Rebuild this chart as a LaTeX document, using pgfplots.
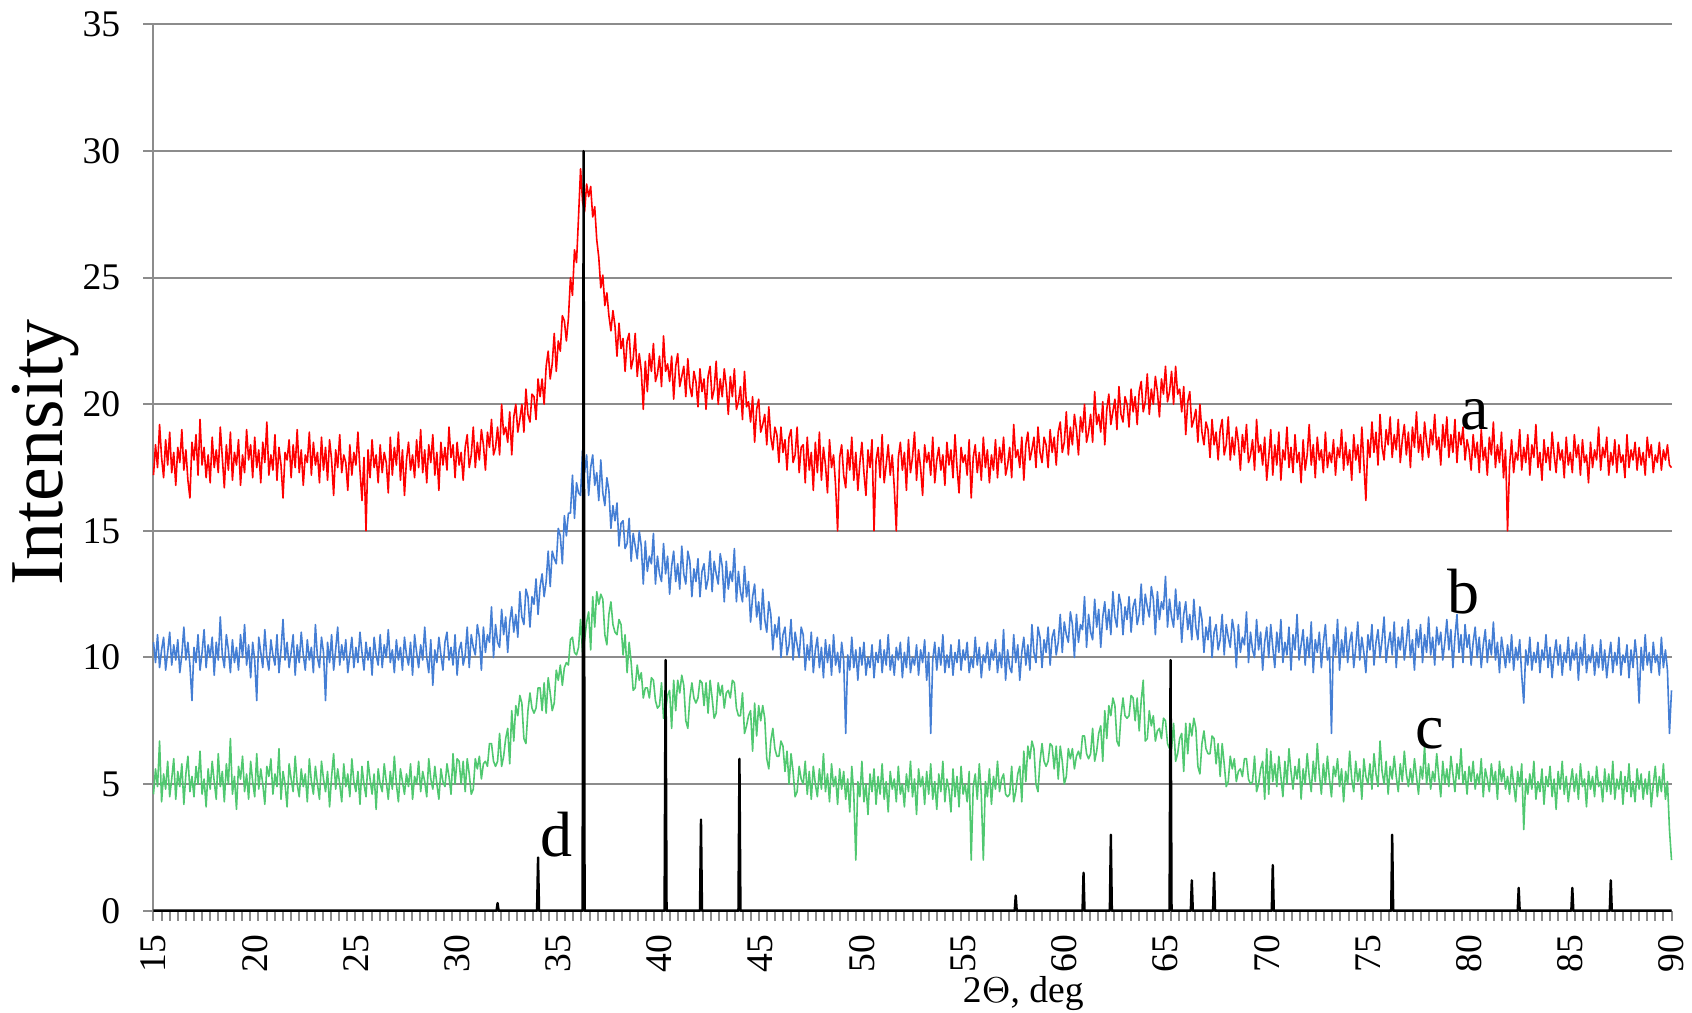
\documentclass[border=0pt]{standalone}
\usepackage{fontspec}
\setmainfont{Liberation Serif}
\usepackage{pgfplots}
\usepackage{pgfplotstable}
\pgfplotsset{compat=1.18}

\definecolor{xred}{RGB}{255,0,0}
\definecolor{xblue}{RGB}{68,126,212}
\definecolor{xgreen}{RGB}{80,200,112}
\definecolor{gridgray}{RGB}{140,140,140}

% 2theta, curve a, curve b, curve c
\pgfplotstableread{
x a b c
15.0 17.2 10.6 4.6
15.1 18.4 9.8 5.6
15.2 17.5 10.9 4.9
15.3 19.2 9.6 6.7
15.4 17.9 10.3 4.3
15.5 17.1 10.8 5.4
15.6 18.6 9.5 4.8
15.7 17.6 10.2 5.9
15.8 18.9 11.0 4.5
15.9 17.3 9.7 5.2
16.0 18.1 10.5 6.0
16.1 16.8 9.9 4.4
16.2 18.3 10.7 5.5
16.3 17.7 9.4 4.9
16.4 19.0 10.1 5.8
16.5 17.4 11.2 4.2
16.6 18.2 9.9 5.4
16.7 17.0 10.6 6.1
16.8 16.3 9.7 4.7
16.9 18.5 8.3 5.3
17.0 17.8 10.4 4.5
17.1 18.8 9.8 5.7
17.2 17.2 10.9 5.0
17.3 19.4 9.5 6.3
17.4 17.6 10.2 4.6
17.5 18.3 11.1 5.2
17.6 17.1 9.6 4.1
17.7 18.0 10.5 5.6
17.8 16.9 10.0 4.8
17.9 18.7 10.8 5.9
18.0 17.5 9.3 5.1
18.1 18.2 10.6 4.4
18.2 17.3 9.9 6.2
18.3 19.1 11.6 4.9
18.4 17.9 10.1 5.5
18.5 16.7 9.6 4.3
18.6 18.4 10.9 5.8
18.7 17.4 10.3 5.0
18.8 18.9 9.4 6.8
18.9 17.0 10.7 4.6
19.0 18.1 9.8 5.3
19.1 17.6 10.4 4.0
19.2 18.6 9.5 5.7
19.3 16.8 10.9 5.2
19.4 18.0 10.0 6.1
19.5 17.3 11.3 4.7
19.6 19.0 9.7 5.4
19.7 17.8 10.5 4.4
19.8 18.4 9.2 5.9
19.9 17.1 10.6 5.1
20.0 18.7 9.9 4.5
20.1 17.5 8.3 6.2
20.2 18.2 10.8 4.8
20.3 16.9 10.2 5.6
20.4 18.5 9.6 5.0
20.5 17.7 11.1 4.2
20.6 19.3 10.0 5.7
20.7 17.2 9.5 5.3
20.8 18.0 10.7 6.0
20.9 17.4 10.1 4.6
21.0 18.8 9.7 5.4
21.1 17.0 10.9 4.9
21.2 18.3 9.4 6.4
21.3 17.6 10.3 4.4
21.4 16.3 11.5 5.5
21.5 18.1 9.9 5.0
21.6 17.8 10.6 4.1
21.7 18.6 9.6 5.8
21.8 17.1 10.2 5.2
21.9 18.4 10.9 4.7
22.0 17.5 9.3 6.1
22.1 19.0 10.5 5.0
22.2 17.3 9.8 4.5
22.3 18.2 11.0 5.6
22.4 16.8 10.1 4.9
22.5 18.0 9.5 5.4
22.6 17.7 10.7 4.3
22.7 18.9 9.9 6.0
22.8 17.2 10.4 5.1
22.9 18.5 9.4 4.6
23.0 17.6 11.3 5.7
23.1 18.1 10.0 5.0
23.2 16.9 9.6 4.4
23.3 18.7 10.8 5.9
23.4 17.4 10.2 5.2
23.5 18.3 8.3 4.7
23.6 17.0 10.6 5.5
23.7 18.6 9.8 4.1
23.8 17.8 10.9 5.3
23.9 16.4 9.5 6.2
24.0 18.2 10.3 4.8
24.1 17.5 11.2 5.6
24.2 18.8 9.7 5.0
24.3 17.3 10.5 4.3
24.4 18.0 9.9 5.8
24.5 17.7 10.7 4.9
24.6 16.6 9.4 5.4
24.7 18.4 10.1 4.5
24.8 17.2 10.8 6.0
24.9 18.1 9.6 5.1
25.0 17.6 10.4 4.7
25.1 18.9 9.8 5.5
25.2 17.4 11.0 4.2
25.3 16.2 10.2 5.7
25.4 17.9 9.5 5.0
25.5 15.0 10.6 4.5
25.6 18.2 9.9 5.9
25.7 17.1 10.4 5.2
25.8 18.6 9.3 4.6
25.9 17.5 10.8 5.4
26.0 18.0 10.1 4.0
26.1 16.9 9.7 5.6
26.2 18.4 10.9 5.0
26.3 17.3 9.6 4.7
26.4 18.1 10.5 5.8
26.5 17.7 10.0 5.1
26.6 16.5 11.1 4.4
26.7 18.7 9.8 5.5
26.8 17.2 10.3 4.8
26.9 18.3 9.4 6.1
27.0 17.6 10.7 5.0
27.1 18.9 9.9 4.3
27.2 17.0 10.4 5.6
27.3 18.2 9.5 5.1
27.4 16.4 10.8 4.6
27.5 17.8 10.1 5.4
27.6 18.5 9.7 4.9
27.7 17.4 10.6 5.8
27.8 18.0 9.3 4.4
27.9 17.1 10.9 5.3
28.0 18.6 10.2 5.0
28.1 17.5 9.6 5.9
28.2 19.0 10.5 4.7
28.3 17.3 9.9 5.5
28.4 18.2 11.2 5.1
28.5 16.9 10.0 4.5
28.6 18.4 9.4 6.0
28.7 17.7 10.7 5.2
28.8 18.8 8.9 4.8
28.9 17.2 10.3 5.7
29.0 18.1 9.8 5.0
29.1 16.6 10.8 4.4
29.2 18.5 10.1 5.6
29.3 17.6 9.5 5.1
29.4 18.3 10.6 4.9
29.5 17.4 11.0 5.8
29.6 19.1 9.9 5.3
29.7 17.9 10.4 4.6
29.8 18.4 9.7 6.2
29.9 17.1 10.9 5.0
30.0 18.5 9.3 6.0
30.1 17.6 10.3 5.9
30.2 18.1 10.6 5.0
30.3 17.0 9.7 5.9
30.4 18.3 10.1 4.7
30.5 18.8 11.2 6.0
30.6 17.5 9.6 5.4
30.7 18.0 10.9 4.6
30.8 19.1 10.4 4.8
30.9 17.5 10.1 6.0
31.0 18.5 11.3 5.6
31.1 17.8 10.8 6.1
31.2 19.0 9.5 5.2
31.3 18.4 11.2 5.8
31.4 17.4 10.2 5.9
31.5 18.9 10.9 5.7
31.6 18.3 10.6 6.6
31.7 19.4 12.0 6.6
31.8 18.0 10.0 5.9
31.9 18.3 11.3 5.7
32.0 19.1 10.6 5.9
32.1 18.0 10.4 7.0
32.2 20.0 11.9 5.7
32.3 18.8 10.9 6.1
32.4 19.1 11.6 6.8
32.5 18.5 10.2 7.2
32.6 19.7 11.4 5.8
32.7 18.0 12.0 7.9
32.8 19.5 11.0 6.7
32.9 20.0 11.7 8.1
33.0 18.9 10.8 7.7
33.1 19.4 12.6 8.5
33.2 20.0 11.6 8.2
33.3 18.9 11.3 6.8
33.4 20.6 12.7 6.6
33.5 19.6 12.4 7.9
33.6 19.3 11.2 8.6
33.7 20.4 12.4 8.0
33.8 20.3 12.1 7.8
33.9 19.4 13.1 8.0
34.0 21.0 11.7 8.8
34.1 20.3 12.8 8.8
34.2 21.0 13.3 7.9
34.3 20.0 12.4 9.0
34.4 21.5 13.0 7.8
34.5 22.1 14.2 9.2
34.6 21.0 12.8 8.6
34.7 21.6 14.2 7.9
34.8 22.8 13.9 8.2
34.9 21.3 13.7 9.5
35.0 22.5 15.1 9.1
35.1 22.1 14.8 9.7
35.2 23.5 13.7 8.9
35.3 23.3 15.6 9.6
35.4 22.5 14.8 9.8
35.5 23.4 15.7 9.7
35.6 25.0 15.7 10.7
35.7 24.3 17.2 10.8
35.8 26.1 15.5 10.2
35.9 25.6 16.9 10.1
36.0 27.4 16.5 10.4
36.1 29.3 16.4 11.5
36.2 28.0 18.2 10.2
36.3 27.6 17.3 10.7
36.4 28.7 18.0 11.4
36.5 28.2 16.4 11.8
36.6 28.6 17.5 10.3
36.7 27.4 18.0 12.4
36.8 27.8 16.8 11.2
36.9 26.5 17.3 12.6
37.0 25.8 16.2 12.1
37.1 24.6 17.8 12.5
37.2 25.1 16.5 12.3
37.3 23.9 16.0 10.9
37.4 24.4 17.1 10.5
37.5 23.5 16.6 11.7
37.6 22.9 15.1 12.2
37.7 23.7 16.0 11.3
37.8 23.1 15.4 11.0
37.9 21.9 16.1 10.9
38.0 23.2 14.4 11.5
38.1 22.2 15.3 11.3
38.2 22.6 15.4 10.1
38.3 21.3 14.3 10.9
38.4 22.5 14.5 9.4
38.5 22.8 15.5 10.6
38.6 21.4 13.8 9.8
38.7 21.8 14.9 8.7
38.8 22.8 14.4 8.8
38.9 21.1 13.9 9.7
39.0 22.0 15.0 9.1
39.1 21.3 14.4 9.4
39.2 19.8 12.9 8.4
39.3 21.7 14.6 8.8
39.4 20.5 13.4 8.8
39.5 22.0 14.0 8.4
39.6 21.3 13.7 9.2
39.7 22.4 14.9 9.1
39.8 20.9 12.9 8.3
39.9 21.2 14.0 8.0
40.0 21.9 13.3 8.1
40.1 20.7 13.0 9.0
40.2 22.7 14.5 7.6
40.3 21.3 13.3 7.9
40.4 21.6 14.0 8.5
40.5 20.9 12.5 8.7
40.6 21.9 13.6 7.2
40.7 20.2 14.2 9.1
40.8 21.5 13.0 7.9
40.9 22.0 13.7 9.1
41.0 20.7 12.7 8.6
41.1 21.1 14.4 9.3
41.2 21.5 13.3 8.9
41.3 20.3 12.9 7.5
41.4 21.8 14.2 7.2
41.5 20.7 13.8 8.4
41.6 20.3 12.4 9.0
41.7 21.3 13.5 8.4
41.8 20.9 13.0 8.2
41.9 19.9 13.9 8.4
42.0 21.4 12.4 9.1
42.1 20.5 13.4 9.0
42.2 21.0 13.7 8.1
42.3 19.8 12.7 9.0
42.4 21.1 13.1 7.8
42.5 21.5 14.2 9.1
42.6 20.2 12.6 8.4
42.7 20.6 13.8 7.6
42.8 21.7 13.3 7.8
42.9 20.0 12.9 9.0
43.0 21.0 14.1 8.5
43.1 20.3 13.6 8.9
43.2 21.4 12.2 8.0
43.3 20.7 13.8 8.6
43.4 19.6 12.7 8.7
43.5 21.1 13.4 8.4
43.6 20.3 13.0 9.1
43.7 21.4 14.3 9.0
43.8 19.8 12.2 8.0
43.9 20.1 13.4 7.7
44.0 20.7 12.6 7.7
44.1 19.4 12.2 8.6
44.2 21.3 13.6 7.0
44.3 19.9 12.4 7.3
44.4 20.1 13.0 7.7
44.5 19.3 11.4 7.9
44.6 20.3 12.4 6.3
44.7 18.5 12.9 8.2
44.8 19.8 11.6 6.9
44.9 20.2 12.2 8.1
45.0 18.9 11.1 7.5
45.1 19.2 12.7 8.1
45.2 19.6 11.5 7.6
45.3 18.4 11.0 6.0
45.4 19.9 12.2 5.6
45.5 18.7 11.7 6.7
45.6 18.2 10.3 7.2
45.7 19.1 11.3 6.4
45.8 18.8 10.8 6.1
45.9 17.7 11.6 6.1
46.0 19.1 10.0 6.7
46.1 18.1 10.9 6.5
46.2 18.6 11.2 5.5
46.3 17.4 10.1 6.3
46.4 18.7 10.5 5.0
46.5 19.0 11.5 6.2
46.6 17.7 9.9 5.5
46.7 18.0 11.0 4.5
46.8 19.1 10.5 4.7
46.9 17.3 10.0 5.7
47.0 18.3 11.2 5.2
47.1 18.4 10.9 5.0
47.2 16.9 9.5 5.9
47.3 18.7 10.5 4.6
47.4 17.4 9.9 5.5
47.5 18.1 11.0 4.4
47.6 16.6 9.4 5.7
47.7 18.5 10.3 5.0
47.8 17.3 10.8 4.5
47.9 18.9 9.6 5.6
48.0 17.0 10.4 4.8
48.1 18.3 9.2 6.2
48.2 17.6 10.7 4.7
48.3 16.5 9.8 5.4
48.4 18.6 10.5 4.3
48.5 17.5 9.3 5.8
48.6 18.0 10.9 4.9
48.7 16.8 9.7 5.3
48.8 15.0 10.2 4.2
48.9 17.9 9.4 5.6
49.0 18.4 10.6 4.8
49.1 17.2 9.9 5.5
49.2 16.7 7.0 4.4
49.3 18.2 10.1 5.2
49.4 17.4 9.5 3.9
49.5 18.7 10.8 5.7
49.6 17.0 9.6 4.6
49.7 18.1 10.3 2.0
49.8 16.6 9.1 5.1
49.9 17.7 10.4 4.5
50.0 18.5 9.7 5.9
50.1 17.3 10.6 4.3
50.2 16.4 9.3 5.0
50.3 18.2 10.0 3.8
50.4 17.5 9.6 5.4
50.5 18.6 10.5 4.7
50.6 15.0 9.2 5.6
50.7 17.8 10.2 4.2
50.8 18.3 9.8 5.3
50.9 17.1 10.7 4.6
51.0 18.8 9.4 5.8
51.1 16.9 10.3 4.4
51.2 17.6 9.7 5.1
51.3 18.4 10.9 3.9
51.4 17.2 9.5 5.5
51.5 18.0 10.1 4.8
51.6 16.7 9.3 5.2
51.7 15.0 10.4 4.3
51.8 17.9 9.9 5.7
51.9 18.5 10.6 4.6
52.0 17.4 9.2 5.0
52.1 18.1 10.2 4.1
52.2 16.6 9.6 5.4
52.3 18.6 10.8 4.7
52.4 17.3 9.4 5.9
52.5 17.9 10.0 4.5
52.6 18.9 9.7 5.2
52.7 17.0 10.5 3.8
52.8 18.2 9.3 5.6
52.9 17.5 10.3 4.9
53.0 16.4 9.8 5.3
53.1 18.4 10.7 4.2
53.2 17.7 9.1 5.5
53.3 18.1 10.2 4.6
53.4 17.2 7.0 5.8
53.5 18.7 9.9 4.4
53.6 16.9 10.6 5.1
53.7 17.8 9.5 4.0
53.8 18.3 10.4 5.4
53.9 17.4 9.7 4.7
54.0 18.0 10.9 5.9
54.1 16.8 9.4 4.3
54.2 18.5 10.1 5.2
54.3 17.6 9.6 4.8
54.4 18.2 10.5 3.9
54.5 17.1 9.3 5.6
54.6 18.8 10.2 4.5
54.7 17.5 9.8 5.3
54.8 16.5 10.7 4.1
54.9 18.3 9.5 5.7
55.0 17.7 10.3 4.6
55.1 18.0 9.9 5.0
55.2 17.2 10.6 4.3
55.3 18.6 9.4 5.5
55.4 16.3 10.0 2.0
55.5 17.9 9.6 4.9
55.6 18.4 10.8 5.4
55.7 17.3 9.7 4.4
55.8 18.1 10.4 5.8
55.9 17.0 9.2 4.6
56.0 18.7 10.1 2.0
56.1 17.5 9.8 5.1
56.2 18.2 10.6 4.5
56.3 16.9 9.5 5.6
56.4 18.0 10.3 4.2
56.5 17.4 9.9 5.3
56.6 18.6 10.7 4.8
56.7 17.1 9.4 5.9
56.8 18.3 10.2 4.7
56.9 17.7 9.6 5.2
57.0 18.7 11.1 5.4
57.1 17.2 9.1 4.6
57.2 17.6 10.3 4.5
57.3 18.3 9.6 4.6
57.4 17.1 9.4 5.7
57.5 19.2 10.9 4.3
57.6 17.9 9.8 4.7
57.7 18.2 10.5 5.4
57.8 17.5 9.1 5.7
57.9 18.7 10.2 4.3
58.0 17.0 10.8 6.3
58.1 18.4 9.7 5.1
58.2 18.9 10.5 6.5
58.3 17.8 9.5 6.0
58.4 18.2 11.3 6.7
58.5 18.7 10.2 6.4
58.6 17.5 9.8 5.0
58.7 19.1 11.2 4.7
58.8 18.1 10.8 5.9
58.9 17.7 9.6 6.6
59.0 18.7 10.7 5.9
59.1 18.4 10.2 5.7
59.2 17.5 11.2 5.9
59.3 19.0 9.7 6.6
59.4 18.1 10.8 6.5
59.5 18.7 11.1 5.6
59.6 17.6 10.1 6.5
59.7 18.9 10.6 5.2
59.8 19.3 11.7 6.5
59.9 18.1 10.2 5.9
60.0 18.5 11.4 5.0
60.1 19.7 10.9 5.3
60.2 18.0 10.6 6.4
60.3 19.1 11.8 6.0
60.4 18.4 11.3 6.4
60.5 19.6 10.0 5.6
60.6 19.0 11.7 6.1
60.7 18.0 10.6 6.3
60.8 19.5 11.3 6.0
60.9 18.9 11.1 6.9
61.0 20.0 12.4 6.9
61.1 18.5 10.4 6.2
61.2 18.9 11.7 6.0
61.3 19.6 11.0 6.2
61.4 18.5 10.7 7.2
61.5 20.5 12.3 5.9
61.6 19.2 11.2 6.3
61.7 19.6 11.9 7.0
61.8 18.9 10.4 7.3
61.9 20.1 11.6 5.9
62.0 18.4 12.2 7.9
62.1 19.8 11.1 6.8
62.2 20.4 11.9 8.1
62.3 19.2 10.9 7.7
62.4 19.7 12.6 8.4
62.5 20.2 11.6 8.1
62.6 19.0 11.2 6.7
62.7 20.7 12.5 6.5
62.8 19.6 12.1 7.7
62.9 19.3 10.9 8.4
63.0 20.3 12.0 7.7
63.1 20.0 11.5 7.6
63.2 19.1 12.4 7.7
63.3 20.6 11.0 8.5
63.4 19.7 12.0 8.4
63.5 20.3 12.3 7.5
63.6 19.2 11.3 8.4
63.7 20.5 11.7 7.1
63.8 20.9 12.9 8.3
63.9 19.7 11.3 9.1
64.0 20.1 12.5 6.7
64.1 21.2 12.0 6.8
64.2 19.6 11.6 7.9
64.3 20.6 12.8 7.3
64.4 20.0 12.3 7.7
64.5 21.1 10.9 6.7
64.6 20.5 12.6 7.1
64.7 19.5 11.5 7.2
64.8 21.0 12.2 6.8
64.9 20.4 11.9 7.6
65.0 21.5 13.2 7.5
65.1 20.1 11.2 6.6
65.2 20.5 12.3 6.4
65.3 21.3 11.6 6.4
65.4 20.0 11.2 7.4
65.5 21.5 12.7 5.9
65.6 20.4 11.5 6.2
65.7 20.6 12.2 6.8
65.8 19.7 10.6 7.0
65.9 20.7 11.7 5.5
66.0 18.8 12.2 7.4
66.1 20.1 11.1 6.2
66.2 20.5 11.7 7.4
66.3 19.1 10.7 6.9
66.4 19.4 12.3 7.6
66.5 19.8 11.2 7.2
66.6 18.5 10.7 5.7
66.7 20.0 12.0 5.4
66.8 18.9 11.5 6.6
66.9 18.4 10.2 7.1
67.0 19.3 11.2 6.4
67.1 19.0 10.7 6.2
67.2 17.9 11.6 6.2
67.3 19.4 10.0 6.9
67.4 18.4 11.0 6.8
67.5 18.9 11.3 5.8
67.6 17.8 10.3 6.6
67.7 19.0 10.7 5.3
67.8 19.4 11.7 6.6
67.9 18.0 10.1 5.8
68.0 18.4 11.3 4.9
68.1 19.5 10.8 5.1
68.2 17.8 10.4 6.1
68.3 18.7 11.5 5.6
68.4 18.0 11.0 6.0
68.5 19.1 9.6 5.1
68.6 18.5 11.3 5.5
68.7 17.4 10.2 5.6
68.8 18.8 10.8 5.3
68.9 18.1 10.5 6.0
69.0 19.2 11.8 6.0
69.1 17.7 9.8 5.2
69.2 18.0 11.0 5.0
69.3 18.6 10.3 5.1
69.4 17.4 10.0 6.1
69.5 19.4 11.5 4.7
69.6 18.1 10.3 5.0
69.7 18.4 11.0 5.6
69.8 17.6 9.5 5.9
69.9 18.7 10.6 4.4
70.0 17.0 11.2 6.4
70.1 17.9 10.0 4.6
70.2 19.0 11.3 6.3
70.3 17.2 10.4 5.1
70.4 18.4 9.6 5.8
70.5 17.6 11.0 4.9
70.6 18.9 10.2 6.1
70.7 17.0 11.5 5.3
70.8 18.2 9.8 4.5
70.9 17.8 10.6 5.9
71.0 19.1 10.1 5.0
71.1 17.5 11.2 6.4
71.2 18.3 9.5 5.5
71.3 17.3 10.9 4.8
71.4 18.8 10.3 5.7
71.5 17.7 11.7 5.2
71.6 18.1 9.9 6.0
71.7 16.9 10.5 4.4
71.8 18.6 11.1 5.6
71.9 17.4 9.7 5.0
72.0 18.0 10.8 6.2
72.1 19.2 10.0 5.3
72.2 17.6 11.4 4.7
72.3 18.4 9.4 5.9
72.4 17.1 10.7 5.1
72.5 18.7 10.2 6.6
72.6 17.8 11.0 5.4
72.7 18.2 9.6 4.6
72.8 17.3 10.6 5.8
72.9 18.9 11.3 5.0
73.0 17.5 9.9 6.1
73.1 18.1 10.4 5.2
73.2 17.7 7.0 4.5
73.3 18.6 10.9 5.7
73.4 17.2 10.1 5.3
73.5 18.3 11.5 6.0
73.6 17.9 9.5 4.9
73.7 19.0 10.7 5.6
73.8 17.4 10.0 4.3
73.9 18.5 11.2 5.5
74.0 17.6 9.8 5.0
74.1 18.2 10.6 6.3
74.2 17.0 11.0 5.2
74.3 18.8 9.6 4.7
74.4 17.8 10.4 5.9
74.5 18.4 11.4 5.1
74.6 17.3 9.9 5.6
74.7 19.1 10.8 4.4
74.8 17.7 10.2 6.0
74.9 16.2 9.4 5.3
75.0 18.6 10.9 5.0
75.1 17.9 10.3 5.8
75.2 19.3 11.3 4.8
75.3 18.1 9.7 6.2
75.4 18.9 10.6 5.4
75.5 17.6 11.1 4.9
75.6 19.6 10.0 6.7
75.7 18.3 10.7 5.5
75.8 17.8 11.6 5.0
75.9 19.0 9.8 5.9
76.0 18.4 10.5 4.6
76.1 19.5 11.0 5.7
76.2 17.9 10.1 5.2
76.3 18.8 11.4 6.1
76.4 18.2 9.6 5.3
76.5 19.4 10.8 4.7
76.6 17.7 10.3 5.8
76.7 18.6 11.2 5.1
76.8 19.2 9.9 6.3
76.9 18.0 10.6 5.4
77.0 18.9 11.5 4.9
77.1 17.5 10.0 5.6
77.2 19.1 10.7 5.0
77.3 18.3 9.5 6.0
77.4 19.7 11.1 5.3
77.5 18.1 10.4 4.6
77.6 18.8 11.3 5.7
77.7 17.8 9.8 5.2
77.8 19.3 10.9 6.5
77.9 18.5 10.2 5.0
78.0 17.9 11.6 5.8
78.1 19.0 10.1 4.8
78.2 18.4 10.8 5.5
78.3 19.6 9.7 5.1
78.4 18.2 11.2 6.2
78.5 18.7 10.5 5.3
78.6 17.6 11.0 4.5
78.7 19.2 9.9 5.9
78.8 18.3 10.6 5.0
78.9 19.5 11.5 5.6
79.0 17.9 10.3 4.9
79.1 18.8 11.1 6.1
79.2 18.1 9.6 5.4
79.3 19.4 10.8 4.7
79.4 17.7 11.7 5.8
79.5 18.9 10.2 5.2
79.6 18.4 10.9 6.4
79.7 19.1 9.8 5.0
79.8 17.8 11.3 5.5
79.9 18.6 10.4 4.6
80.0 18.2 10.9 5.7
80.1 17.4 9.7 5.1
80.2 18.8 10.6 5.9
80.3 17.9 11.2 4.8
80.4 18.5 10.0 5.4
80.5 17.3 10.8 5.0
80.6 19.0 9.6 6.0
80.7 17.8 10.5 4.5
80.8 18.3 11.1 5.6
80.9 17.2 9.8 5.2
81.0 18.7 10.7 4.7
81.1 18.0 10.1 5.8
81.2 19.3 11.4 5.0
81.3 17.5 9.9 5.5
81.4 18.4 10.6 4.4
81.5 17.7 9.4 5.9
81.6 18.9 10.8 5.1
81.7 17.1 10.2 5.6
81.8 18.2 9.6 4.8
81.9 15.0 10.5 5.3
82.0 17.6 9.8 4.6
82.1 18.6 10.9 5.7
82.2 17.3 9.5 5.0
82.3 18.1 10.4 4.3
82.4 17.8 9.9 5.5
82.5 19.0 10.7 4.9
82.6 17.4 9.3 5.8
82.7 18.3 8.2 3.2
82.8 17.7 10.3 5.2
82.9 18.8 9.7 4.6
83.0 17.2 10.8 5.4
83.1 18.4 9.5 4.8
83.2 17.9 10.2 5.9
83.3 19.2 9.8 4.4
83.4 17.5 10.6 5.1
83.5 18.1 9.4 4.7
83.6 17.0 10.3 5.6
83.7 18.6 9.9 4.2
83.8 17.7 10.9 5.3
83.9 18.3 9.6 4.9
84.0 17.4 10.4 5.7
84.1 18.9 9.2 4.5
84.2 18.0 10.1 5.2
84.3 17.3 10.7 4.0
84.4 18.5 9.7 5.5
84.5 17.8 10.5 4.8
84.6 18.2 9.3 5.9
84.7 17.1 10.2 4.6
84.8 18.7 9.8 5.3
84.9 17.6 10.8 4.3
85.0 18.1 9.5 5.0
85.1 17.3 10.3 5.6
85.2 18.8 9.9 4.7
85.3 17.9 10.6 5.4
85.4 18.4 9.1 4.4
85.5 17.2 10.4 5.8
85.6 18.6 9.7 4.9
85.7 17.7 10.9 5.2
85.8 18.0 9.4 4.1
85.9 16.9 10.1 5.5
86.0 18.5 9.8 4.8
86.1 17.5 10.5 5.3
86.2 18.2 9.3 4.5
86.3 17.8 10.2 5.7
86.4 19.1 9.6 4.9
86.5 17.4 10.7 5.1
86.6 18.3 9.5 4.3
86.7 17.9 10.3 5.6
86.8 18.7 9.2 4.7
86.9 17.2 10.0 5.4
87.0 18.1 10.6 4.6
87.1 17.6 9.4 5.9
87.2 18.6 10.2 4.4
87.3 17.3 9.7 5.2
87.4 18.4 10.8 4.8
87.5 17.7 9.3 5.5
87.6 18.0 10.1 4.2
87.7 17.1 9.8 5.3
87.8 18.8 10.5 4.7
87.9 17.5 9.2 5.8
88.0 18.2 10.3 4.5
88.1 17.8 9.6 5.1
88.2 18.5 10.7 4.3
88.3 17.4 9.9 5.6
88.4 18.3 8.2 4.8
88.5 17.6 10.4 5.4
88.6 18.1 9.5 4.4
88.7 17.2 10.9 5.2
88.8 18.7 9.7 4.6
88.9 17.9 10.2 5.5
89.0 18.4 9.4 4.1
89.1 17.3 10.6 5.0
89.2 18.0 9.8 5.7
89.3 17.7 10.1 4.5
89.4 18.5 9.3 5.3
89.5 17.4 10.8 4.7
89.6 18.2 9.6 5.8
89.7 17.8 10.3 4.4
89.8 18.4 9.5 5.1
89.9 17.6 7.0 3.2
90.0 17.5 8.7 2.0
}\xrd

% reference pattern d (stick positions and heights)
\pgfplotstableread{
x y
15.00 0
31.95 0
32.00 0.3
32.05 0
33.95 0
34.00 2.1
34.05 0
36.20 0
36.25 30
36.30 0
40.25 0
40.30 9.9
40.35 0
42.00 0
42.05 3.6
42.10 0
43.90 0
43.95 6.0
44.00 0
57.55 0
57.60 0.6
57.65 0
60.90 0
60.95 1.5
61.00 0
62.25 0
62.30 3.0
62.35 0
65.20 0
65.25 9.9
65.30 0
66.25 0
66.30 1.2
66.35 0
67.35 0
67.40 1.5
67.45 0
70.25 0
70.30 1.8
70.35 0
76.15 0
76.20 3.0
76.25 0
82.40 0
82.45 0.9
82.50 0
85.05 0
85.10 0.9
85.15 0
86.95 0
87.00 1.2
87.05 0
90.00 0
}\sticks

\begin{document}
\begin{tikzpicture}
\path[use as bounding box] (0,0) rectangle (423pt,253.25pt);
\begin{axis}[
  at={(38.375pt,25.575pt)}, anchor=south west,
  scale only axis,
  width=379.5pt, height=221.55pt,
  xmin=15, xmax=90, ymin=0, ymax=35,
  clip=false,
  axis lines*=left,
  axis line style={-, draw=gridgray, line width=0.5pt},
  xtick={15,20,...,90},
  minor xtick={15,15.39894,...,90.1},
  ytick={0,5,...,35},
  ymajorgrids,
  grid style={draw=gridgray, line width=0.5pt},
  tick align=outside,
  tick style={draw=gridgray, line width=0.5pt},
  major tick length=2.5pt,
  minor tick length=2.5pt,
  major x tick style={draw=none},
  /pgf/number format/assume math mode=true,
  ticklabel style={font=\fontsize{9.4}{11}\selectfont, inner sep=0pt},
  xticklabel style={yshift=-3.3pt, rotate=90, anchor=east},
  yticklabel style={xshift=-5.6pt, anchor=east},
  every axis plot/.append style={line join=round},
]
\addplot[xred, line width=0.4pt] table[x=x, y=a] {\xrd};
\addplot[xblue, line width=0.4pt] table[x=x, y=b] {\xrd};
\addplot[xgreen, line width=0.4pt] table[x=x, y=c] {\xrd};
\addplot[black, line width=0.6pt] table[x=x, y=y] {\sticks};

\node[anchor=base, font=\fontsize{16}{18}\selectfont] at (axis cs:80.3,19.0) {a};
\node[anchor=base, font=\fontsize{16}{18}\selectfont] at (axis cs:79.7,11.75) {b};
\node[anchor=base, font=\fontsize{16}{18}\selectfont] at (axis cs:78.07,6.41) {c};
\node[anchor=base, font=\fontsize{16}{18}\selectfont] at (axis cs:34.89,2.13) {d};

\node[font=\fontsize{9.4}{11}\selectfont] at ([yshift=-20.8pt]axis description cs:0.573,0) {2$\Theta$, deg};
\node[rotate=90, font=\fontsize{19}{21}\selectfont] at ([xshift=-27.1pt]axis description cs:0,0.517) {Intensity};
\end{axis}
\end{tikzpicture}
\end{document}
